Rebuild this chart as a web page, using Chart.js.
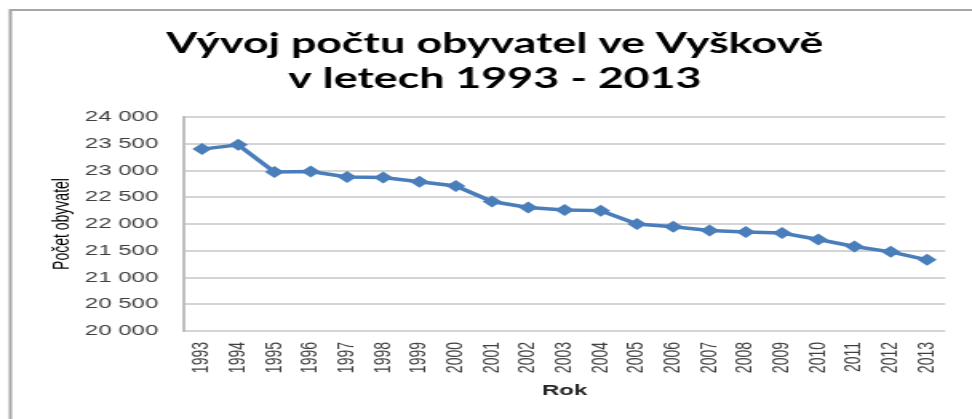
<!DOCTYPE html>
<html>
<head>
<meta charset="utf-8">
<script src="https://cdn.jsdelivr.net/npm/chart.js@4"></script>
<style>
  html, body { margin: 0; padding: 0; background: #ffffff; overflow: hidden; }
  #populationChart { display: block; }
</style>
</head>
<body>
<!-- the source picture is stretched sideways, so the canvas is drawn narrow and widened by css -->
<canvas id="populationChart" width="608" height="419" style="width:972px;height:419px"></canvas>
<script>
var years = ["1993", "1994", "1995", "1996", "1997", "1998", "1999", "2000", "2001", "2002", "2003",
    "2004", "2005", "2006", "2007", "2008", "2009", "2010", "2011", "2012", "2013"];
var population = [23400, 23480, 22970, 22980, 22880, 22870, 22790, 22710, 22420, 22310, 22260,
    22250, 22000, 21950, 21880, 21850, 21830, 21710, 21580, 21480, 21330];
var chartTitle = ["Vývoj počtu obyvatel ve Vyškově", "v letech 1993 - 2013"];
var yAxisTitle = "Počet obyvatel";
var xAxisTitle = "Rok";
var yMin = 20000;
var yMax = 24000;
var yStep = 500;

// thin grey frame round the chart, like the pasted excel object
var framePlugin = {
    id: 'frame',
    afterDraw: function (chart) {
        var ctx = chart.ctx;
        ctx.save();
        ctx.strokeStyle = '#a6a6a6';
        ctx.lineWidth = 2;
        ctx.beginPath();
        ctx.moveTo(6.5, 419);
        ctx.lineTo(6.5, 10);
        ctx.lineTo(608, 10);
        ctx.stroke();
        ctx.restore();
    }
};

var PopulationChartConfig = {
    type: 'line',
    data: {
        labels: years,
        datasets: [{
            label: "Počet obyvatel",
            data: population,
            borderColor: "#4a7ebb",
            backgroundColor: "#4a7ebb",
            borderWidth: 3.5,
            pointStyle: 'rectRot',
            pointRadius: 6,
            pointBorderWidth: 0,
            tension: 0,
            fill: false
        }]
    },
    options: {
        responsive: false,
        animation: false,
        devicePixelRatio: 1,
        layout: { padding: { left: 25, right: 14, top: 0, bottom: 0 } },
        plugins: {
            legend: { display: false },
            tooltip: { enabled: false },
            title: {
                display: true,
                text: chartTitle,
                color: '#000000',
                font: { family: 'Lato', size: 28, weight: 'bold', lineHeight: 1.25 },
                padding: { top: 26, bottom: 21 }
            }
        },
        scales: {
            x: {
                offset: true,
                grid: { display: false, drawTicks: false },
                border: { display: false },
                ticks: {
                    color: '#404040',
                    font: { family: 'Liberation Sans', size: 14 },
                    minRotation: 90,
                    maxRotation: 90,
                    padding: 11,
                    autoSkip: false
                },
                title: {
                    display: true,
                    text: xAxisTitle,
                    color: '#262626',
                    font: { family: 'Liberation Sans', size: 15, weight: 'bold' },
                    padding: { top: 19, bottom: 19 }
                },
                afterFit: function (scale) { scale.height = 88; }
            },
            y: {
                min: yMin,
                max: yMax,
                grid: { color: '#d4d4d4', lineWidth: 2, drawTicks: false },
                border: { display: true, color: '#bfbfbf', width: 2 },
                ticks: {
                    stepSize: yStep,
                    color: '#404040',
                    font: { family: 'Liberation Sans', size: 15 },
                    padding: 16,
                    callback: function (value) {
                        return String(value).replace(/\B(?=(\d{3})+(?!\d))/g, ' ');
                    }
                },
                title: {
                    display: true,
                    text: yAxisTitle,
                    color: '#000000',
                    font: { family: 'Liberation Sans', size: 14 },
                    padding: { top: 6, bottom: 0 }
                },
                afterFit: function (scale) { scale.width = 90; }
            }
        }
    },
    plugins: [framePlugin]
};
var PopulationChart = new Chart(document.getElementById("populationChart").getContext('2d'), PopulationChartConfig);
</script>
</body>
</html>
